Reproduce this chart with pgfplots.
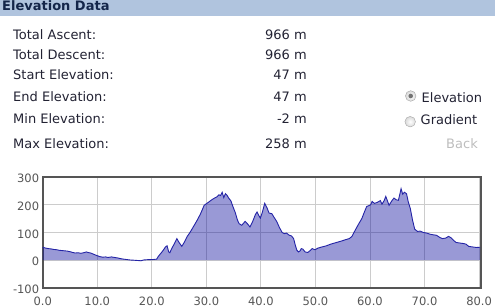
\documentclass[border=0pt]{standalone}
\usepackage{fontspec}
\setmainfont{DejaVu Sans}
\usepackage{pgfplots}
\pgfplotsset{compat=1.18}
\definecolor{hdr}{HTML}{B0C4DE}
\definecolor{titlec}{HTML}{14264A}
\definecolor{bodyc}{HTML}{222233}
\definecolor{tickc}{HTML}{555555}
\definecolor{framec}{HTML}{555555}
\definecolor{gridc}{HTML}{CCCCCC}
\definecolor{areac}{RGB}{0,0,153}
\definecolor{linec}{HTML}{2424A6}
\definecolor{backc}{HTML}{BDBDBD}
\pgfplotstableread{
x y
0 47
0.5 44
1.0 42
1.5 41
2.0 39
2.5 38
3.0 36
3.5 35
4.0 34
4.5 33
5.0 31
5.5 28
6.0 26
6.5 27
7.0 25
7.5 27
8.0 30
8.3 28
8.8 26
9.3 22
9.9 17
10.5 13
11.0 11
11.5 12
12.0 10
12.6 12
13.2 10
13.8 8
14.5 5
15.2 3
16.0 1
16.8 0
17.5 -1
18.0 -2
18.5 1
19.2 2
19.8 2
20.4 3
20.9 4
21.2 14
21.7 26
22.1 36
22.5 48
22.8 52
23.1 30
23.3 27
23.7 44
24.1 58
24.6 78
25.0 64
25.5 50
26.0 66
26.5 86
27.0 100
27.6 120
28.2 140
28.9 166
29.3 184
29.6 198
30.1 205
30.6 212
31.0 218
31.5 224
31.9 228
32.3 236
32.6 233
32.9 245
33.2 226
33.5 240
33.8 234
34.1 224
34.5 214
34.9 192
35.3 172
35.7 145
36.0 132
36.5 126
37.1 140
37.6 130
38.0 120
38.5 140
39.0 165
39.3 174
39.6 162
39.9 152
40.3 175
40.7 205
41.1 190
41.5 170
42.0 168
42.4 155
42.9 140
43.4 118
43.9 100
44.3 96
44.7 98
45.2 90
45.6 88
46.0 78
46.3 55
46.6 36
46.9 30
47.2 34
47.4 42
47.7 40
48.1 30
48.6 28
49.1 36
49.4 42
49.9 38
50.5 44
51.2 48
52.0 52
52.8 58
53.5 62
54.2 66
54.9 70
55.5 74
56.2 78
56.7 86
57.2 105
57.9 130
58.5 150
59.0 175
59.4 194
59.7 196
60.1 200
60.4 212
60.8 205
61.3 208
61.9 215
62.2 202
62.6 215
62.9 230
63.2 214
63.5 198
64.0 214
64.4 224
64.8 218
65.2 216
65.5 240
65.7 258
66.0 238
66.3 245
66.7 240
67.0 212
67.4 186
67.8 145
68.2 112
68.7 104
69.2 105
69.8 100
70.4 98
71.0 94
71.5 92
72.2 90
72.8 82
73.3 78
73.9 80
74.4 86
74.8 82
75.3 72
75.8 64
76.5 62
77.2 60
77.6 58
78.1 50
78.8 48
79.5 46
80.2 47
}\elev
\begin{document}
\begin{tikzpicture}[x=1pt,y=1pt]
\useasboundingbox (0,0) rectangle (495,307);
\fill[hdr] (0,291) rectangle (495,307);
\node[anchor=base west, inner sep=0, font=\fontsize{13}{15}\selectfont\bfseries, text=titlec] at (2,296.5) {Elevation Data};
\begin{scope}[every node/.style={inner sep=0, font=\fontsize{13}{15}\selectfont, text=bodyc}]
\node[anchor=base west] at (13,267.4) {Total Ascent:};
\node[anchor=base west] at (13,247.4) {Total Descent:};
\node[anchor=base west] at (13,227.4) {Start Elevation:};
\node[anchor=base west] at (13,205.4) {End Elevation:};
\node[anchor=base west] at (13,183.4) {Min Elevation:};
\node[anchor=base west] at (13,158.4) {Max Elevation:};
\node[anchor=base east] at (307,267.4) {966 m};
\node[anchor=base east] at (307,247.4) {966 m};
\node[anchor=base east] at (307,227.4) {47 m};
\node[anchor=base east] at (307,205.4) {47 m};
\node[anchor=base east] at (307,183.4) {-2 m};
\node[anchor=base east] at (307,158.4) {258 m};
\node[anchor=base west] at (421.5,204.5) {Elevation};
\node[anchor=base west] at (420.5,182) {Gradient};
\node[anchor=base east, text=backc] at (478,158.7) {Back};
\end{scope}
\shade[inner color=white, outer color=gray!30, draw=gray!70] (410.7,211) circle (5.3);
\fill[gray!90!black] (410.7,211) circle (2.3);
\shade[inner color=white, outer color=gray!30, draw=gray!70] (410.2,185.3) circle (5.3);
\begin{axis}[
  at={(42.7pt,19pt)}, anchor=south west,
  scale only axis, width=438pt, height=111pt,
  xmin=0, xmax=80.3, ymin=-100, ymax=300,
  axis line style={draw=framec, line width=2pt},
  grid=major, major grid style={draw=gridc, line width=0.8pt},
  major tick length=0pt,
  xtick={0,10,20,30,40,50,60,70,80},
  xticklabels={0.0,10.0,20.0,30.0,40.0,50.0,60.0,70.0,80.0},
  ytick={-100,0,100,200,300},
  yticklabels={-100,0,100,200,300},
  ticklabel style={font=\fontsize{11.5}{13}\selectfont, text=tickc, inner sep=0pt},
  yticklabel style={anchor=east, xshift=-3.4pt, yshift=-1.5pt},
  xticklabel style={anchor=north, yshift=-8.3pt},
]
\addplot[draw=none, fill=areac, fill opacity=0.4] table {\elev} \closedcycle;
\addplot[draw=linec, line width=0.9pt] table {\elev};
\end{axis}
\end{tikzpicture}
\end{document}
